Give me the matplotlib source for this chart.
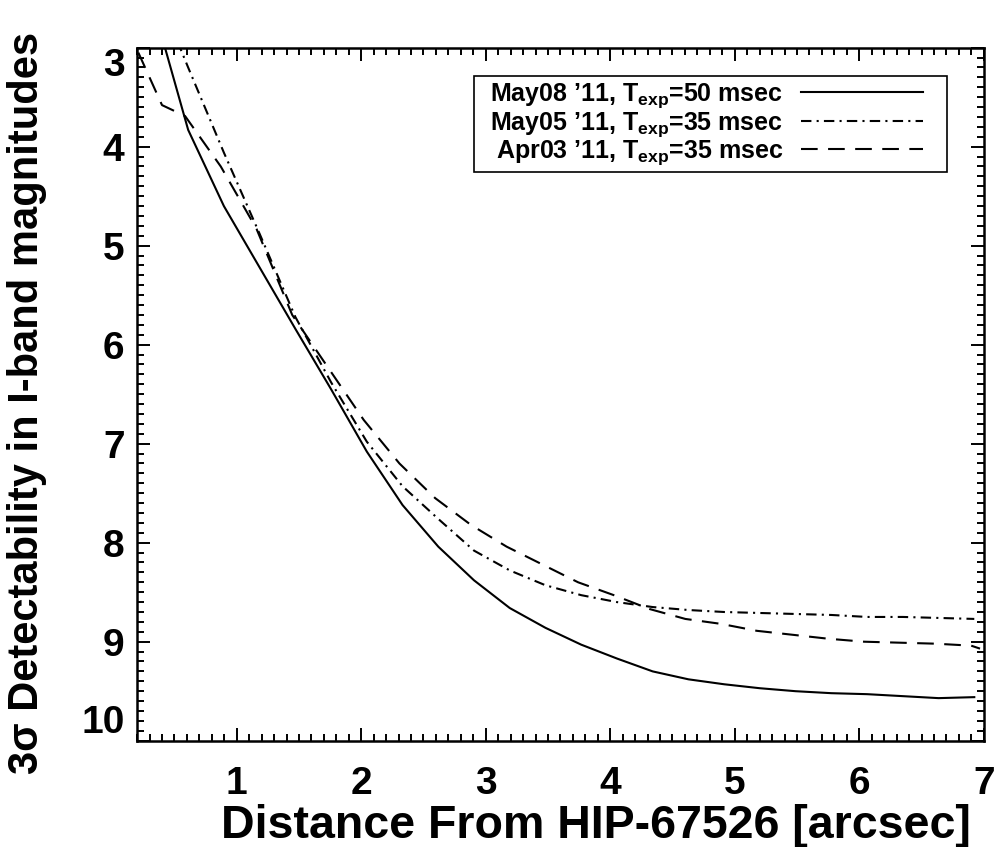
import matplotlib.pyplot as plt
from matplotlib.patches import Rectangle
from matplotlib.ticker import MultipleLocator

# Шрифт: жирный, похожий на Helvetica
plt.rcParams['font.family'] = ['Liberation Sans', 'DejaVu Sans']
plt.rcParams['font.weight'] = 'bold'
plt.rcParams['mathtext.fontset'] = 'custom'
plt.rcParams['mathtext.rm'] = 'Liberation Sans:bold'
plt.rcParams['mathtext.bf'] = 'Liberation Sans:bold'
plt.rcParams['mathtext.it'] = 'Liberation Sans:bold'

# Данные
dist_may = [0.323, 0.61, 0.897, 1.184, 1.471, 1.758, 2.045, 2.332, 2.619, 2.906,
            3.193, 3.48, 3.767, 4.054, 4.341, 4.628, 4.915, 5.202, 5.489, 5.776,
            6.063, 6.35, 6.637, 6.924]
mag_may08 = [2.55, 3.83, 4.60, 5.22, 5.84, 6.45, 7.08, 7.62, 8.04, 8.38,
             8.66, 8.86, 9.03, 9.17, 9.30, 9.38, 9.43, 9.47, 9.50, 9.52,
             9.53, 9.55, 9.57, 9.56]
mag_may05 = [2.32, 3.20, 4.06, 4.88, 5.72, 6.38, 6.98, 7.43, 7.76, 8.08,
             8.28, 8.43, 8.53, 8.60, 8.65, 8.68, 8.70, 8.71, 8.72, 8.73,
             8.75, 8.75, 8.76, 8.77]

dist_apr = [0.21, 0.40, 0.585, 0.872, 1.159, 1.446, 1.733, 2.02, 2.307, 2.594,
            2.881, 3.168, 3.455, 3.742, 4.029, 4.316, 4.603, 4.89, 5.177, 5.464,
            5.751, 6.038, 6.325, 6.612, 6.899, 6.97]
mag_apr03 = [3.05, 3.58, 3.69, 4.20, 4.83, 5.70, 6.23, 6.76, 7.20, 7.55,
             7.82, 8.04, 8.22, 8.40, 8.53, 8.67, 8.77, 8.82, 8.89, 8.93,
             8.97, 9.00, 9.01, 9.02, 9.04, 9.07]

labels = ["May08 \u201911, T$_{\\rm exp}$=50 msec",
          "May05 \u201911, T$_{\\rm exp}$=35 msec",
          "Apr03 \u201911, T$_{\\rm exp}$=35 msec"]

fig = plt.figure(figsize=(9.95, 8.47), dpi=100)
ax = fig.add_axes([0.1378, 0.1255, 0.8509, 0.8182])

ax.plot(dist_may, mag_may08, color='black', lw=1.5, ls='-', label=labels[0])
ax.plot(dist_may, mag_may05, color='black', lw=1.5, ls=(0, (5, 2.5, 1, 2.5)), label=labels[1])
ax.plot(dist_apr, mag_apr03, color='black', lw=1.5, ls=(0, (8, 5)), label=labels[2])

ax.set_xlim(0.2, 7.0)
ax.set_ylim(10, 3)  # звездные величины - ось перевернута

ax.xaxis.set_major_locator(MultipleLocator(1))
ax.xaxis.set_minor_locator(MultipleLocator(0.1))
ax.yaxis.set_major_locator(MultipleLocator(1))
ax.yaxis.set_minor_locator(MultipleLocator(0.1))

ax.tick_params(which='both', direction='in', top=True, right=True, width=1.4, labelsize=28)
ax.tick_params(which='major', length=9.5)
ax.tick_params(which='minor', length=4.7)
ax.tick_params(axis='x', pad=18)
ax.tick_params(axis='y', pad=9)
for sp in ax.spines.values():
    sp.set_linewidth(1.8)

ax.set_xlabel('Distance From HIP-67526 [arcsec]', fontsize=33.5, fontweight='bold')
ax.set_ylabel('3\u03c3 Detectability in I-band magnitudes', fontsize=30, fontweight='bold')
ax.xaxis.set_label_coords(0.542, -0.092)
ax.yaxis.set_label_coords(-0.107, 0.487)

# легенда: текст справа выровнен, линия справа
leg = ax.legend(loc='upper right', bbox_to_anchor=(0.9283, 0.951), borderaxespad=0,
                markerfirst=False, frameon=False, fontsize=18,
                handlelength=4.9, handletextpad=0.7,
                labelspacing=-0.02, borderpad=0)

fig.canvas.draw()

# крайние подписи по y сдвинуты внутрь, как в оригинале
for lab in ax.get_yticklabels():
    if lab.get_text() == '3':
        lab.set_va('top')
    elif lab.get_text() == '10':
        lab.set_va('bottom')

# рамка легенды с несимметричными отступами
bb = leg.get_window_extent()
inv = ax.transAxes.inverted()
x0, y0 = inv.transform((bb.x0 - 16, bb.y0 - 5))
x1, y1 = inv.transform((bb.x1 + 24, bb.y1 + 6))
ax.add_patch(Rectangle((x0, y0), x1 - x0, y1 - y0, transform=ax.transAxes,
                       facecolor='white', edgecolor='black', lw=1.2,
                       zorder=4, clip_on=False))
leg.set_zorder(5)

fig.savefig('out.png', dpi=100)
